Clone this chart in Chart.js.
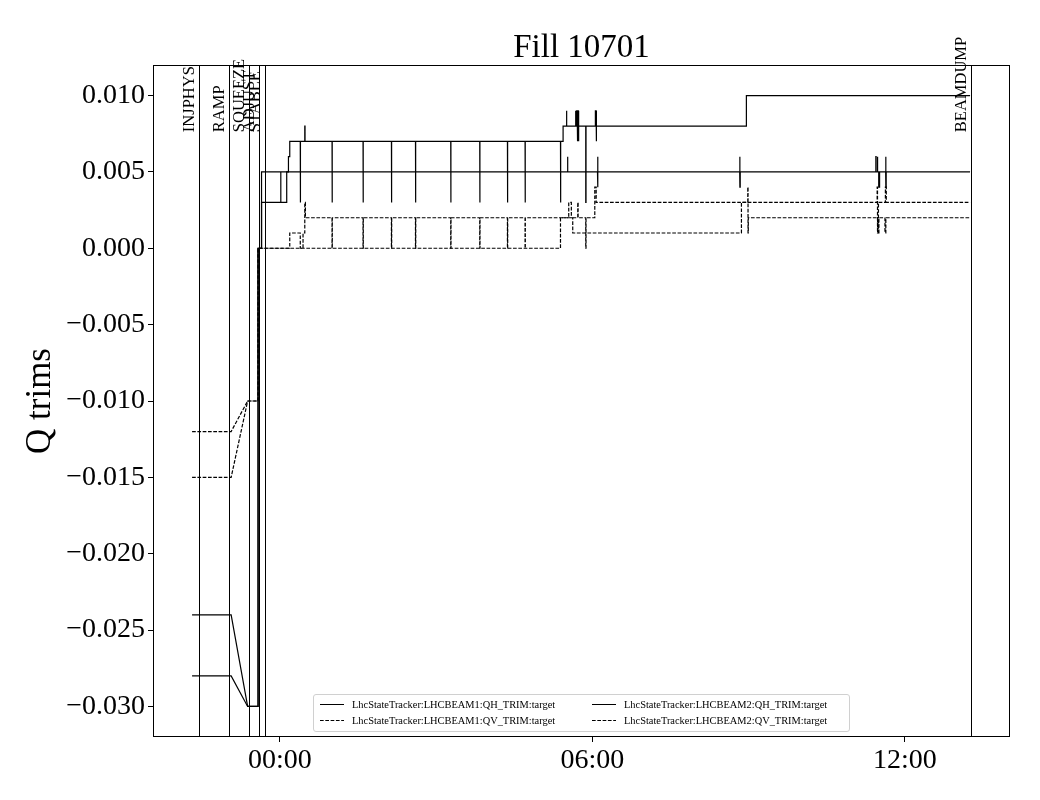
<!DOCTYPE html>
<html>
<head>
<meta charset="utf-8">
<script src="https://cdn.jsdelivr.net/npm/chart.js@4.4.1/dist/chart.umd.min.js"></script>
<style>
	body { margin: 0; background: #fff; }
	#wrap { position: relative; width: 1040px; height: 800px; }
	#legend {
		position: absolute; left: 313px; top: 694px; width: 537px; height: 38px;
		box-sizing: border-box; padding-top: 1px;
		border: 1px solid #d0d0d0; border-radius: 3px; background: rgba(255,255,255,0.8);
		font: 10.4px "Liberation Serif", serif; color: #000;
		display: grid; grid-auto-flow: column; grid-template-rows: 16px 16px; grid-template-columns: 272px 262px;
	}
	.item { display: flex; align-items: center; white-space: nowrap; }
	.item svg { margin-left: 6px; margin-right: 8px; }
</style>
</head>
<body>
<div id="wrap">
	<canvas id="chart" width="1040" height="800"></canvas>
	<div id="legend"></div>
</div>
<script>
// times are minutes relative to 00:00
const rampT = [-101, -56, -37];
const endT = 795;

const b1qhRamp = [-0.024, -0.024, -0.030];
const b1qhT = [-25, -21, 1, 1.3, 8, 10, 11.5, 23.6, 23.9, 28.8, 29.1,
	60.2, 60.5, 95.9, 96.2, 128.6, 128.9, 156.3, 156.6, 196.9, 197.2, 230.3, 230.6,
	262.2, 262.5, 282.5, 282.8, 323.3, 323.6, 326.3, 330.2, 330.5,
	340.5, 341.0, 342.0, 342.5, 343.2, 343.8, 344.4, 352.4, 352.7,
	363.5, 364.3, 364.6, 364.9, 537.4];
const b1qhV = [0, 0.003, 0.005, 0.003, 0.005, 0.006, 0.007, 0.003, 0.007, 0.008, 0.007,
	0.003, 0.007, 0.003, 0.007, 0.003, 0.007, 0.003, 0.007, 0.003, 0.007, 0.003, 0.007,
	0.003, 0.007, 0.003, 0.007, 0.003, 0.007, 0.008, 0.009, 0.008,
	0.009, 0.008, 0.009, 0.007, 0.009, 0.007, 0.008, 0.003, 0.008,
	0.009, 0.008, 0.007, 0.008, 0.010];

const b1qvRamp = [-0.012, -0.012, -0.010];
const b1qvT = [-25, 11.5, 23.6, 26.8, 28.8, 29.5,
	60.2, 60.5, 95.9, 96.2, 128.6, 128.9, 156.3, 156.6, 196.9, 197.2, 230.3, 230.6,
	262.2, 262.5, 282.5, 282.8, 332.8, 335.8, 337.4, 531.7,
	688.0, 688.4, 689.5, 697.5, 698.5];
const b1qvV = [0, 0.001, 0, 0.001, 0.003, 0.002,
	0, 0.002, 0, 0.002, 0, 0.002, 0, 0.002, 0, 0.002, 0, 0.002,
	0, 0.002, 0, 0.002, 0.003, 0.002, 0.001, 0.003,
	0.004, 0.001, 0.003, 0.004, 0.003];

const b2qhRamp = [-0.028, -0.028, -0.030];
const b2qhT = [-25, -21, 331.4, 331.7, 365.9, 366.2, 366.5, 529.7, 530.0, 530.3,
	686.5, 686.8, 688.3, 688.6, 689.8, 690.8, 697.8, 698.1, 698.4];
const b2qhV = [0, 0.005, 0.006, 0.005, 0.006, 0.004, 0.005, 0.006, 0.004, 0.005,
	0.006, 0.005, 0.006, 0.005, 0.004, 0.005, 0.006, 0.004, 0.005];

const b2qvRamp = [-0.015, -0.015, -0.010];
const b2qvT = [-25, 323.3, 343.2, 343.6, 352.4, 352.7, 362.8, 364.4,
	539.0, 539.3, 539.6, 688.5, 690.0, 697.0, 698.0];
const b2qvV = [0, 0.002, 0.003, 0.002, 0, 0.002, 0.004, 0.003,
	0.004, 0.001, 0.002, 0.001, 0.002, 0.001, 0.002];

const modeNames = ["INJPHYS", "RAMP", "SQUEEZE", "ADJUST", "STABLE", "BEAMDUMP"];
const modeTimes = [-93, -58, -35, -24, -17, 796];

const xTicks = [0, 360, 720];
const xTickLabels = ["00:00", "06:00", "12:00"];
const yTicks = [-0.030, -0.025, -0.020, -0.015, -0.010, -0.005, 0.000, 0.005, 0.010];

const FONT = '"Liberation Serif", "DejaVu Serif", serif';
Chart.defaults.font.family = FONT;
Chart.defaults.color = "#000";

function buildPoints(rampVals, times, vals) {
	const pts = rampT.map((t, i) => ({ x: t, y: rampVals[i] }));
	let prev = rampVals[rampVals.length - 1];
	times.forEach((t, i) => {
		pts.push({ x: t, y: prev });
		pts.push({ x: t, y: vals[i] });
		prev = vals[i];
	});
	pts.push({ x: endT, y: prev });
	return pts;
}

const series = [
	{ label: "LhcStateTracker:LHCBEAM1:QH_TRIM:target", data: buildPoints(b1qhRamp, b1qhT, b1qhV), dash: [] },
	{ label: "LhcStateTracker:LHCBEAM1:QV_TRIM:target", data: buildPoints(b1qvRamp, b1qvT, b1qvV), dash: [3.7, 1.6] },
	{ label: "LhcStateTracker:LHCBEAM2:QH_TRIM:target", data: buildPoints(b2qhRamp, b2qhT, b2qhV), dash: [] },
	{ label: "LhcStateTracker:LHCBEAM2:QV_TRIM:target", data: buildPoints(b2qvRamp, b2qvT, b2qvV), dash: [3.7, 1.6] },
];

const modePlugin = {
	id: "modes",
	afterDatasetsDraw(chart) {
		const { ctx, chartArea: a, scales: { x } } = chart;
		ctx.save();
		ctx.strokeStyle = "#000";
		ctx.lineWidth = 1;
		ctx.strokeRect(a.left + 0.5, a.top + 0.5, a.right - a.left - 1, a.bottom - a.top - 1);
		const ty = a.top + 0.1 * (a.bottom - a.top);
		modeTimes.forEach((t, i) => {
			const px = Math.round(x.getPixelForValue(t)) + 0.5;
			ctx.beginPath();
			ctx.moveTo(px, a.top);
			ctx.lineTo(px, a.bottom);
			ctx.stroke();
			ctx.save();
			ctx.translate(px - 2, ty);
			ctx.rotate(-Math.PI / 2);
			ctx.font = "16.5px " + FONT;
			ctx.fillStyle = "#000";
			ctx.textAlign = "left";
			ctx.textBaseline = "bottom";
			ctx.fillText(modeNames[i], 0, 0);
			ctx.restore();
		});
		ctx.restore();
	},
};

new Chart(document.getElementById("chart"), {
	type: "line",
	data: {
		datasets: series.map((s) => ({
			label: s.label,
			data: s.data,
			borderColor: "#000",
			borderWidth: 1.2,
			borderDash: s.dash,
			pointRadius: 0,
			tension: 0,
			fill: false,
		})),
	},
	options: {
		responsive: false,
		animation: false,
		devicePixelRatio: 1,
		layout: { padding: { top: 0, right: 30, bottom: 0, left: 0 } },
		plugins: {
			legend: { display: false },
			tooltip: { enabled: false },
			title: {
				display: true,
				fullSize: false,
				text: "Fill 10701",
				color: "#000",
				font: { size: 33, weight: "normal", lineHeight: 1 },
				padding: { top: 32, bottom: 0 },
			},
		},
		scales: {
			x: {
				type: "linear",
				min: -146,
				max: 841,
				afterBuildTicks: (scale) => { scale.ticks = xTicks.map((v) => ({ value: v })); },
				afterFit: (scale) => { scale.height = 63; },
				grid: { drawOnChartArea: false, drawTicks: true, tickLength: 5, color: "#000" },
				border: { display: false },
				ticks: {
					font: { size: 28 },
					color: "#000",
					padding: 2,
					maxRotation: 0,
					callback: (v) => xTickLabels[xTicks.indexOf(v)],
				},
			},
			y: {
				type: "linear",
				min: -0.032,
				max: 0.012,
				afterBuildTicks: (scale) => { scale.ticks = yTicks.map((v) => ({ value: v })); },
				afterFit: (scale) => { scale.width = 153; },
				grid: { drawOnChartArea: false, drawTicks: true, tickLength: 5, color: "#000" },
				border: { display: false },
				ticks: {
					font: { size: 28 },
					color: "#000",
					padding: 3,
					callback: (v) => v.toFixed(3).replace("-", "\u2212"),
				},
				title: {
					display: true,
					text: "Q trims",
					color: "#000",
					font: { size: 35 },
					padding: { top: 20, bottom: 0 },
				},
			},
		},
	},
	plugins: [modePlugin],
});

// legend as html, built from the datasets
const legend = document.getElementById("legend");
series.forEach((s) => {
	const item = document.createElement("div");
	item.className = "item";
	const dash = s.dash.length ? ' stroke-dasharray="' + s.dash.join(" ") + '"' : "";
	item.innerHTML =
		'<svg width="24" height="5"><line x1="0" y1="2.5" x2="24" y2="2.5" stroke="#000" stroke-width="1"' + dash + "/></svg>" +
		"<span>" + s.label + "</span>";
	legend.appendChild(item);
});
</script>
</body>
</html>
